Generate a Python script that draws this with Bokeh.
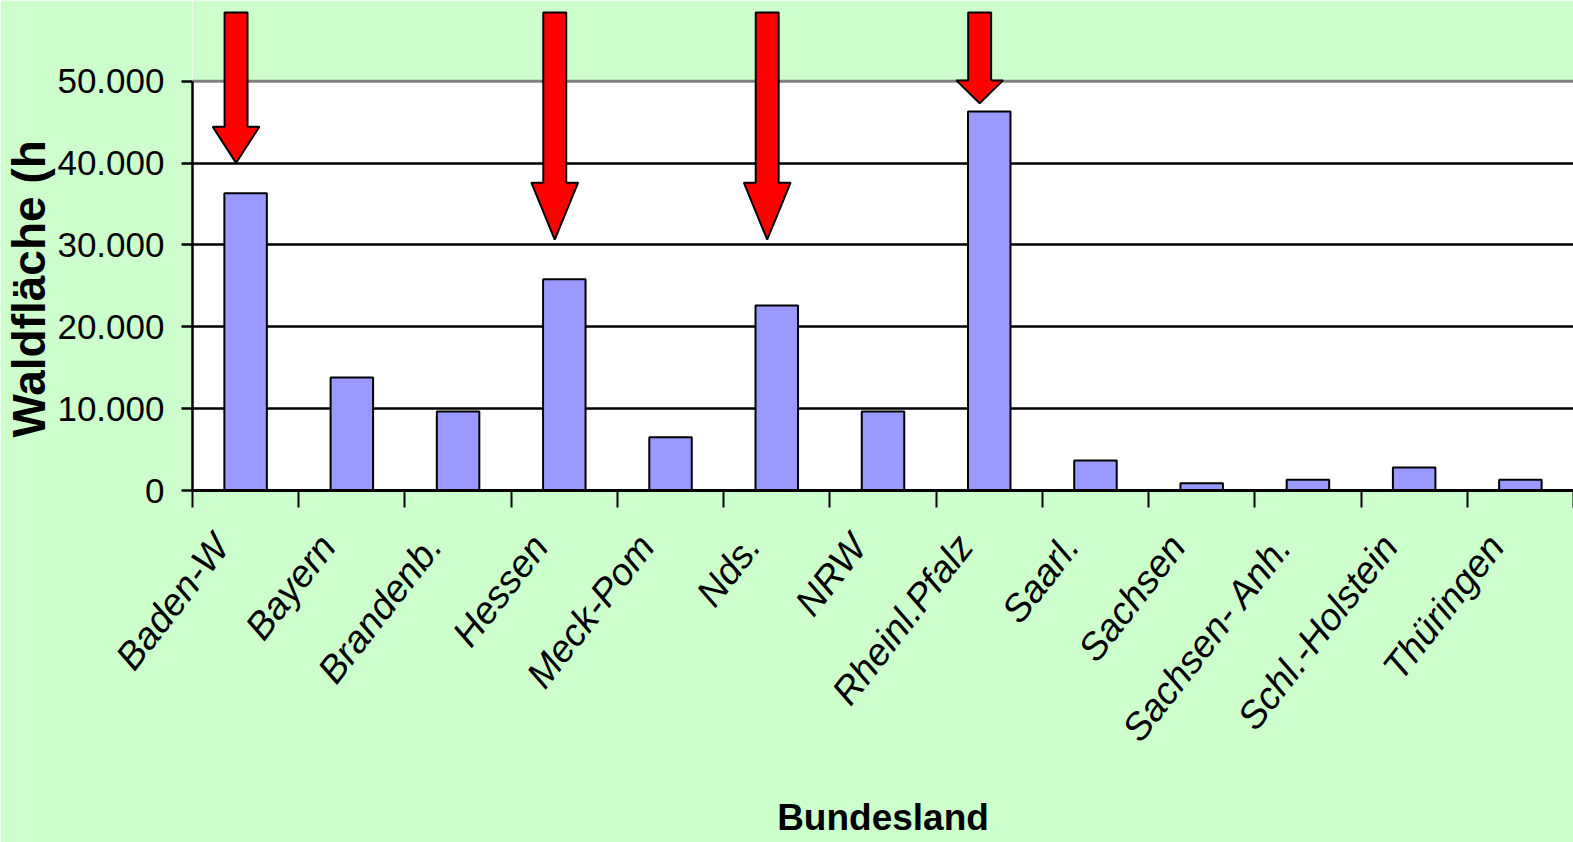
from bokeh.plotting import figure
from bokeh.models import Range1d, FixedTicker, BoxAnnotation, Span, ColumnDataSource, Title
from bokeh.embed import file_html
from bokeh.resources import INLINE

# Waldfläche je Bundesland (ha)
laender = ["Baden-W", "Bayern", "Brandenb.", "Hessen", "Meck-Pom", "Nds.", "NRW",
           "Rheinl.Pfalz", "Saarl.", "Sachsen", "Sachsen- Anh.", "Schl.-Holstein", "Thüringen"]
waldflaeche = [36300, 13800, 9650, 25800, 6500, 22600, 9650,
               46300, 3650, 900, 1300, 2800, 1300]

y_ticks = [0, 10000, 20000, 30000, 40000, 50000]
y_tick_labels = ["0", "10.000", "20.000", "30.000", "40.000", "50.000"]

y_title = "Waldfläche (h"
x_title = "Bundesland"

# Hinweispfeile: Bundesland, Pfeilspitze, Ansatz der Spitze (ha)
pfeil_land = ["Baden-W", "Hessen", "Nds.", "Rheinl.Pfalz"]
pfeil_spitze = [40000, 30650, 30650, 47300]
pfeil_ansatz = [44450, 37600, 37600, 50100]
pfeil_oben = 58400

GREEN = "#CCFFCC"
BAR = "#9999FF"
FONT = "Liberation Sans"

n = len(laender)
p = figure(width=1573, height=842, output_backend="svg", toolbar_location=None,
           x_range=Range1d(0, n), y_range=Range1d(0, 59860),
           min_border_left=192, min_border_right=0, min_border_top=0, min_border_bottom=352)
p.background_fill_color = "white"
p.border_fill_color = GREEN
p.outline_line_color = None

# green band above the plot area and its grey top border
p.add_layout(BoxAnnotation(bottom=50000, fill_color=GREEN, fill_alpha=1.0,
                           line_alpha=0, level="underlay"))
p.add_layout(Span(location=50000, dimension="width", line_color="#808080",
                  line_width=3, level="underlay"))

# bars
src = ColumnDataSource(dict(x=[i + 0.5 for i in range(n)], top=waldflaeche))
p.vbar(x="x", top="top", width=0.4, bottom=0, source=src,
       fill_color=BAR, line_color="black", line_width=2)

# red arrows
sw, hw, off = 0.108, 0.22, 0.41
xs, ys = [], []
for land, tip, head in zip(pfeil_land, pfeil_spitze, pfeil_ansatz):
    xc = laender.index(land) + off
    xs.append([xc - sw, xc + sw, xc + sw, xc + hw, xc, xc - hw, xc - sw])
    ys.append([pfeil_oben, pfeil_oben, head, head, tip, head, head])
p.patches(xs, ys, fill_color="#FF0000", line_color="black", line_width=2)

# y axis
yax = p.yaxis[0]
yax.ticker = FixedTicker(ticks=y_ticks)
yax.bounds = (0, 50000)
yax.major_label_overrides = {t: s for t, s in zip(y_ticks, y_tick_labels)}
yax.major_label_text_font = FONT
yax.major_label_text_font_size = "35px"
yax.major_label_text_color = "black"
yax.major_label_standoff = 17
yax.major_tick_out = 11
yax.major_tick_in = 0
yax.major_tick_line_width = 2.5
yax.minor_tick_line_color = None
yax.axis_line_width = 2.5
yax.axis_line_color = "black"

# y title, starting just above the zero line
p.add_layout(Title(text=y_title, align="left", offset=53, standoff=0,
                   text_font=FONT, text_font_style="bold", text_font_size="46px",
                   text_color="black"), "left")

p.ygrid[0].ticker = FixedTicker(ticks=[10000, 20000, 30000, 40000])
p.ygrid[0].grid_line_color = "black"
p.ygrid[0].grid_line_width = 2.3
p.xgrid[0].grid_line_color = None

# x axis: labels slightly left of the category centres, tick marks between categories
lbl_shift = 0.23
xax = p.xaxis[0]
xax.ticker = FixedTicker(ticks=[i + 0.5 - lbl_shift for i in range(n)],
                         minor_ticks=list(range(n + 1)))
xax.major_label_overrides = {i + 0.5 - lbl_shift: name for i, name in enumerate(laender)}
xax.major_label_orientation = 0.91
xax.major_label_text_font = FONT
xax.major_label_text_font_style = "italic"
xax.major_label_text_font_size = "38px"
xax.major_label_text_color = "black"
xax.major_label_standoff = 32
xax.major_tick_out = 0
xax.major_tick_in = 0
xax.minor_tick_out = 17
xax.minor_tick_in = 0
xax.minor_tick_line_width = 2
xax.minor_tick_line_color = "black"
xax.axis_line_width = 3.2
xax.axis_line_color = "black"
xax.axis_label = x_title
xax.axis_label_text_font = FONT
xax.axis_label_text_font_style = "bold"
xax.axis_label_text_font_size = "37px"
xax.axis_label_text_color = "black"
xax.axis_label_standoff = 32

open("out.html", "w").write(file_html(p, INLINE))
